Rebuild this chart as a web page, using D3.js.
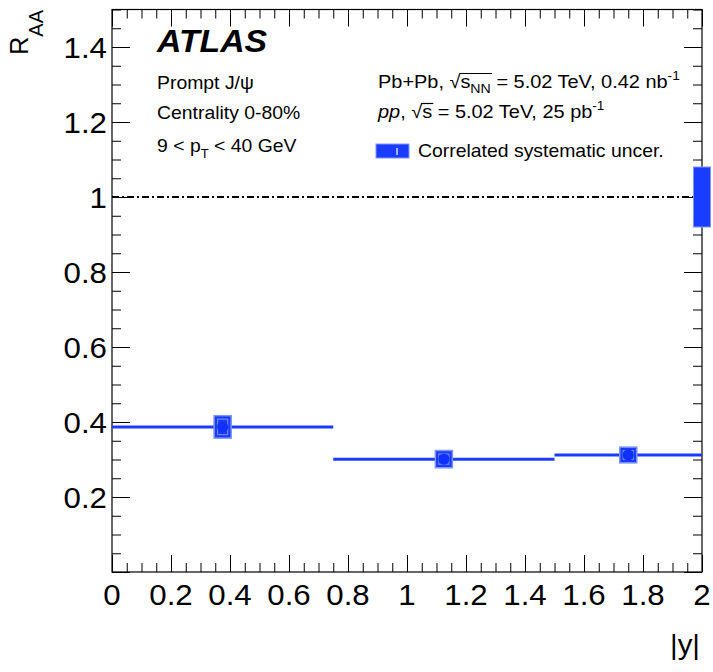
<!DOCTYPE html>
<html><head><meta charset="utf-8">
<script src="https://cdn.jsdelivr.net/npm/d3@7"></script>
<style>body{margin:0;background:#fff} text{font-family:"Liberation Sans",Arial,Helvetica,sans-serif; white-space:pre}</style>
</head><body><svg id="c" width="713" height="672"></svg>
<script>
// ---- data ----
const binLow = [0, 0.75, 1.5];
const binHigh = [0.75, 1.5, 2.0];
const xCenters = [0.375, 1.125, 1.75];
const raa = [0.387, 0.301, 0.312];
const sysErr = [0.030, 0.023, 0.021];
const corrSysCenter = 1.0;
const corrSysErr = 0.08;
const boxHalfWidth = 0.029;
const xTicks = [0, 0.2, 0.4, 0.6, 0.8, 1, 1.2, 1.4, 1.6, 1.8, 2];
const xTickLabels = ["0", "0.2", "0.4", "0.6", "0.8", "1", "1.2", "1.4", "1.6", "1.8", "2"];
const yTicks = [0.2, 0.4, 0.6, 0.8, 1, 1.2, 1.4];
const yTickLabels = ["0.2", "0.4", "0.6", "0.8", "1", "1.2", "1.4"];

const SX = 1.09, SXT = 1.06;
const BLUE = "#1a3cff";
const svg = d3.select("#c");
const x = d3.scaleLinear().domain([0, 2]).range([112, 702]);
const y = d3.scaleLinear().domain([0, 1.5]).range([572, 9.5]);
const [X0, X1] = x.range(); const [Y0, Y1] = y.range();

const xMinor = d3.range(0, 2.0001, 0.05).filter(v => Math.abs(v * 5 - Math.round(v * 5)) > 1e-6);
const yMinor = d3.range(0, 1.5001, 0.05).filter(v => Math.abs(v * 5 - Math.round(v * 5)) > 1e-6);
const yMajAll = [0].concat(yTicks);

function styleAxis(g) { g.select(".domain").remove(); g.selectAll("line").attr("stroke", "#000").attr("stroke-width", 1); g.selectAll("text").remove(); }
svg.append("g").attr("transform", `translate(0,${Y0})`).call(d3.axisBottom(x).tickValues(xTicks).tickSize(-17)).call(styleAxis);
svg.append("g").attr("transform", `translate(0,${Y0})`).call(d3.axisBottom(x).tickValues(xMinor).tickSize(-9)).call(styleAxis);
svg.append("g").attr("transform", `translate(0,${Y1})`).call(d3.axisTop(x).tickValues(xTicks).tickSize(-17)).call(styleAxis);
svg.append("g").attr("transform", `translate(0,${Y1})`).call(d3.axisTop(x).tickValues(xMinor).tickSize(-9)).call(styleAxis);
svg.append("g").attr("transform", `translate(${X0},0)`).call(d3.axisLeft(y).tickValues(yMajAll).tickSize(-18)).call(styleAxis);
svg.append("g").attr("transform", `translate(${X0},0)`).call(d3.axisLeft(y).tickValues(yMinor).tickSize(-9)).call(styleAxis);
svg.append("g").attr("transform", `translate(${X1},0)`).call(d3.axisRight(y).tickValues(yMajAll).tickSize(-18)).call(styleAxis);
svg.append("g").attr("transform", `translate(${X1},0)`).call(d3.axisRight(y).tickValues(yMinor).tickSize(-9)).call(styleAxis);

svg.append("rect").attr("x", X0).attr("y", Y1).attr("width", X1 - X0).attr("height", Y0 - Y1)
  .attr("fill", "none").attr("stroke", "#000").attr("stroke-width", 1.2);

svg.selectAll(".xl").data(xTicks).enter().append("text")
  .attr("transform", d => `translate(${x(d)},605) scale(${SXT},1)`)
  .attr("text-anchor", "middle").attr("font-size", 29.5).text((d, i) => xTickLabels[i]);
svg.selectAll(".yl").data(yTicks).enter().append("text")
  .attr("transform", d => `translate(107,${y(d) + 10.5}) scale(${SXT},1)`)
  .attr("text-anchor", "end").attr("font-size", 29.5).text((d, i) => yTickLabels[i]);

svg.append("line").attr("x1", X0).attr("x2", X1).attr("y1", y(1)).attr("y2", y(1))
  .attr("stroke", "#000").attr("stroke-width", 2).attr("stroke-dasharray", "7,3,2,3");

svg.selectAll(".bin").data(raa).enter().append("line")
  .attr("x1", (d, i) => x(binLow[i])).attr("x2", (d, i) => x(binHigh[i]))
  .attr("y1", d => y(d)).attr("y2", d => y(d))
  .attr("stroke", BLUE).attr("stroke-width", 3);

svg.selectAll(".sys").data(raa).enter().append("rect")
  .attr("x", (d, i) => x(xCenters[i] - boxHalfWidth)).attr("width", (d, i) => x(xCenters[i] + boxHalfWidth) - x(xCenters[i] - boxHalfWidth))
  .attr("y", (d, i) => y(d + sysErr[i])).attr("height", (d, i) => y(d - sysErr[i]) - y(d + sysErr[i]))
  .attr("fill", BLUE).attr("stroke", "#7f95ff").attr("stroke-width", 1.5);
svg.selectAll(".sysin").data(raa).enter().append("rect")
  .attr("x", (d, i) => x(xCenters[i] - boxHalfWidth) + 3.5).attr("width", (d, i) => x(xCenters[i] + boxHalfWidth) - x(xCenters[i] - boxHalfWidth) - 7)
  .attr("y", (d, i) => y(d + sysErr[i]) + 3.5).attr("height", (d, i) => y(d - sysErr[i]) - y(d + sysErr[i]) - 7)
  .attr("fill", "none").attr("stroke", "#6c86ff").attr("stroke-width", 1.2);
svg.selectAll(".pt").data(raa).enter().append("circle")
  .attr("cx", (d, i) => x(xCenters[i])).attr("cy", d => y(d)).attr("r", 5.5).attr("fill", "#1030ff");

svg.append("rect").attr("x", x(2 - boxHalfWidth)).attr("width", x(2 + boxHalfWidth) - x(2 - boxHalfWidth))
  .attr("y", y(corrSysCenter + corrSysErr)).attr("height", y(corrSysCenter - corrSysErr) - y(corrSysCenter + corrSysErr))
  .attr("fill", BLUE).attr("stroke", "#7f95ff").attr("stroke-width", 1);

function rich(x0, y0, parts, base) {
  const g = svg.append("g").attr("transform", `translate(${x0},${y0}) scale(${SX},1)`);
  let cx = 0, ox0 = null, ox1 = null;
  parts.forEach(p => {
    const t = g.append("text").attr("x", cx).attr("y", p.dy || 0).attr("font-size", p.size || base).text(p.t);
    if (p.italic) t.attr("font-style", "italic");
    if (p.bold) t.attr("font-weight", "bold");
    const w = t.node().getComputedTextLength();
    if (p.over) { if (ox0 === null) ox0 = cx; ox1 = cx + w; }
    cx += w + (p.gap || 0);
  });
  if (ox0 !== null) g.append("line").attr("x1", ox0 - 1).attr("x2", ox1 + 1).attr("y1", -14.5).attr("y2", -14.5).attr("stroke", "#000").attr("stroke-width", 1.2);
  return g;
}

rich(157, 52, [{ t: "ATLAS", bold: true, italic: true }], 31);
rich(157, 89, [{ t: "Prompt J/ψ" }], 17.8);
rich(157, 119, [{ t: "Centrality 0-80%" }], 17.8);
rich(157, 152, [{ t: "9 < p" }, { t: "T", size: 12, dy: 6 }, { t: " < 40 GeV" }], 17.8);

rich(378, 88, [{ t: "Pb+Pb, " }, { t: "√" }, { t: "s", over: true }, { t: "NN", size: 13, dy: 5, over: true }, { t: " = 5.02 TeV, 0.42 nb" }, { t: "-1", size: 12.5, dy: -8 }], 18.3);
rich(378, 118, [{ t: "pp", italic: true }, { t: ", " }, { t: "√" }, { t: "s", over: true }, { t: " = 5.02 TeV, 25 pb" }, { t: "-1", size: 12.5, dy: -8 }], 18.3);

svg.append("rect").attr("x", 376).attr("y", 144).attr("width", 33).attr("height", 14).attr("fill", BLUE).attr("stroke", "#7f95ff").attr("stroke-width", 1);
svg.append("line").attr("x1", 397).attr("x2", 397).attr("y1", 148).attr("y2", 155).attr("stroke", "#fff").attr("stroke-width", 1.2);
rich(418, 157, [{ t: "Correlated systematic uncer." }], 17.8);

const yt = svg.append("g").attr("transform", "translate(28,10) rotate(-90)");
const ytt = yt.append("text").attr("text-anchor", "end").attr("font-size", 25);
ytt.append("tspan").text("R");
ytt.append("tspan").attr("font-size", 20).attr("dy", 15).text("AA");
svg.append("text").attr("transform", `translate(700,654) scale(${SX},1)`).attr("text-anchor", "end").attr("font-size", 27).text("|y|");
</script></body></html>
